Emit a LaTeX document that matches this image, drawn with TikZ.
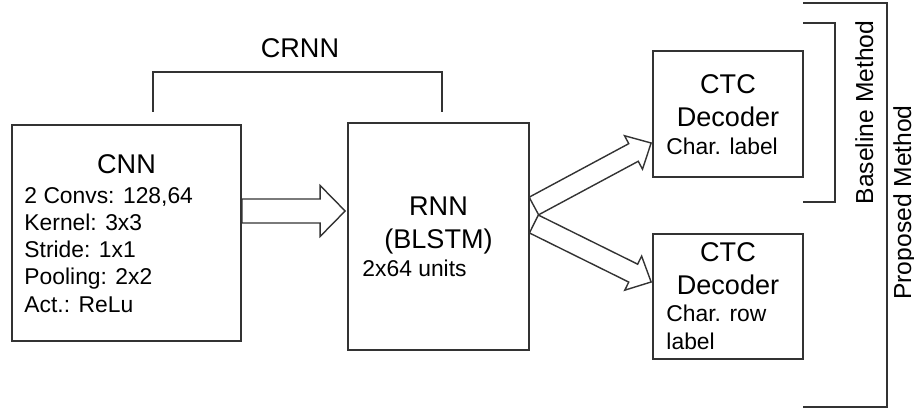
\documentclass[tikz,border=0pt]{standalone}
\usepackage{fontspec}
\setmainfont{Liberation Sans}
\usetikzlibrary{calc,positioning}
\newcommand{\fatarrow}[5]{\draw[fatline] let \p1=($(#2)!#5!(#1)$) in ($(#1)!#3!90:(#2)$) -- ($(\p1)!#3!90:(#2)$) -- ($(\p1)!#4!90:(#2)$) -- (#2) -- ($(\p1)!#4!-90:(#2)$) -- ($(\p1)!#3!-90:(#2)$) -- ($(#1)!#3!-90:(#2)$) -- cycle;}

\begin{document}
\begin{tikzpicture}[
		box/.style={draw=black!80, line width=1pt, inner sep=0pt},
		title/.style={font=\fontsize{15.4}{18.5}\selectfont, align=center, anchor=base, inner sep=0pt},
		body/.style={font=\fontsize{13}{15.5}\selectfont, align=left, anchor=base west, inner sep=0pt},
		fatline/.style={draw=black!80, line width=0.8pt, line join=miter},
		bracket/.style={draw=black!80, line width=1pt},
		side/.style={font=\fontsize{14}{16}\selectfont, rotate=90, anchor=base, inner sep=0pt}]
		%%%%% START %%%%%
		\useasboundingbox (0,0) rectangle (18.28,8.2);
		
		\node[box, minimum width=4.58cm, minimum height=4.32cm] (cnn) at (2.53,3.54) {};
		\node[box, minimum width=3.62cm, minimum height=4.54cm] (rnn) at (8.77,3.47) {};
		\node[box, minimum width=3cm, minimum height=2.52cm] (ctcA) at (14.56,5.92) {};
		\node[box, minimum width=3cm, minimum height=2.5cm] (ctcB) at (14.56,2.27) {};
		
		% anchors sit on the last baseline of each text
		\node[title] (cnnT) at ($(cnn.north)+(0,-0.98)$) {CNN};
		\node[body] (cnnB) at ($(cnn.north west)+(0.26,-3.76)$) {2 Convs: 128,64\\Kernel: 3x3\\Stride: 1x1\\Pooling: 2x2\\Act.: ReLu};
		\node[title] (rnnT) at ($(rnn.north)+(0,-2.52)$) {RNN\\(BLSTM)};
		\node[body] (rnnB) at ($(rnn.north west)+(0.3,-3.08)$) {2x64 units};
		\node[title] (ctcAT) at ($(ctcA.north)+(0,-1.52)$) {CTC\\Decoder};
		\node[body] (ctcAB) at ($(ctcA.north west)+(0.28,-2.08)$) {Char. label};
		\node[title] (ctcBT) at ($(ctcB.north)+(0,-1.22)$) {CTC\\Decoder};
		\node[body] (ctcBB) at ($(ctcB.north west)+(0.28,-2.32)$) {Char. row\\label};
		
		\node[title] (crnn) at (6.0,7.04) {CRNN};
		\draw[bracket] (3.06,5.96) |- (8.84,6.76) -- (8.84,5.96);
		
		\draw[bracket] (16.06,7.74) -- (16.70,7.74) -- (16.70,4.16) -- (16.06,4.16);
		\draw[bracket] (16.06,8.14) -- (17.74,8.14) -- (17.74,0.06) -- (16.06,0.06);
		\node[side] (baseline) at (17.46,5.95) {Baseline Method};
		\node[side] (proposed) at (18.22,4.15) {Proposed Method};
		
		\coordinate (cnnOut) at ($(cnn.east)+(0,0.44)$);
		\coordinate (rnnIn) at ($(rnn.west)+(-0.04,0.51)$);
		\fatarrow{cnnOut}{rnnIn}{0.24cm}{0.51cm}{0.5cm}
		
		\coordinate (rnnOutA) at ($(rnn.east)+(0.08,0.61)$);
		\coordinate (rnnOutB) at ($(rnn.east)+(0.08,0.25)$);
		\coordinate (ctcAIn) at ($(ctcA.west)+(-0.02,-0.58)$);
		\coordinate (ctcBIn) at ($(ctcB.west)+(-0.02,0.29)$);
		\fatarrow{rnnOutA}{ctcAIn}{0.2cm}{0.38cm}{0.4cm}
		\fatarrow{rnnOutB}{ctcBIn}{0.2cm}{0.38cm}{0.4cm}
		%%%%% END %%%%%
	\end{tikzpicture}
\end{document}
